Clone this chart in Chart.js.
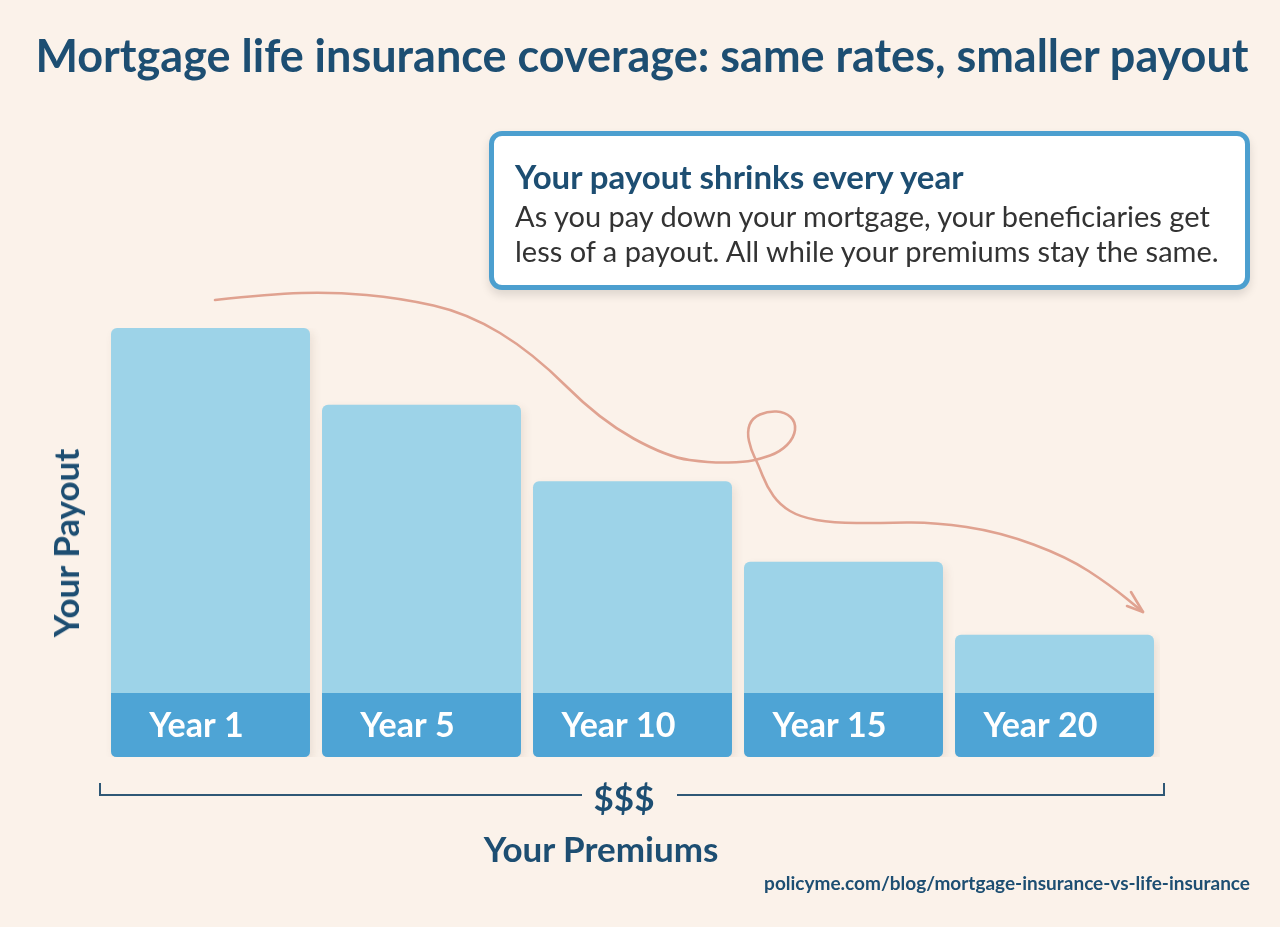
<!DOCTYPE html>
<html lang="en">
<head>
    <meta charset="UTF-8">
    <title>Mortgage life insurance coverage</title>
    <script src="https://cdn.jsdelivr.net/npm/chart.js"></script>
    <style>
        body {
            margin: 0;
            background: #fbf2ea;
            font-family: Lato, "Open Sans", sans-serif;
        }
        .page {
            position: relative;
            width: 1280px;
            height: 927px;
            overflow: hidden;
        }
        #chart {
            position: absolute;
            left: 0;
            top: 0;
        }
        h1 {
            position: absolute;
            left: 0;
            width: 1284px;
            top: 28px;
            margin: 0;
            text-align: center;
            font-size: 45px;
            font-weight: 700;
            color: #1d4e72;
            white-space: nowrap;
        }
        .callout {
            position: absolute;
            left: 489px;
            top: 131px;
            width: 751px;
            height: 149px;
            background: #fff;
            border: 5px solid #4c9fcf;
            border-radius: 13px;
            box-shadow: 0 5px 10px rgba(0,0,0,0.12);
        }
        .callout h2 {
            margin: 0;
            position: absolute;
            left: 21px;
            top: 20px;
            font-size: 33px;
            font-weight: 700;
            color: #1d4e72;
            white-space: nowrap;
        }
        .callout p {
            margin: 0;
            position: absolute;
            left: 21px;
            top: 62px;
            font-size: 29px;
            line-height: 35px;
            color: #333;
            white-space: nowrap;
        }
        .ytitle {
            position: absolute;
            left: 65px;
            top: 543px;
            transform: translate(-50%, -50%) rotate(-90deg);
            font-size: 35px;
            font-weight: 700;
            color: #1d4e72;
            white-space: nowrap;
        }
        .dollars {
            position: absolute;
            left: 624px;
            top: 797px;
            transform: translate(-50%, -50%);
            font-size: 35px;
            font-weight: 700;
            color: #1d4e72;
        }
        .xtitle {
            position: absolute;
            left: 601px;
            top: 848px;
            transform: translate(-50%, -50%);
            font-size: 35px;
            font-weight: 700;
            color: #1d4e72;
            white-space: nowrap;
        }
        .source {
            position: absolute;
            right: 30px;
            top: 871px;
            font-size: 19px;
            font-weight: 700;
            color: #1d4e72;
        }
    </style>
</head>
<body>
<div class="page">
    <canvas id="chart" width="1280" height="927"></canvas>
    <h1>Mortgage life insurance coverage: same rates, smaller payout</h1>
    <div class="callout">
        <h2>Your payout shrinks every year</h2>
        <p>As you pay down your mortgage, your beneficiaries get<br>less of a payout. All while your premiums stay the same.</p>
    </div>
    <div class="ytitle">Your Payout</div>
    <div class="dollars">$$$</div>
    <div class="xtitle">Your Premiums</div>
    <div class="source">policyme.com/blog/mortgage-insurance-vs-life-insurance</div>
</div>

<script>
    // years on the policy and relative payout (Year 1 = 100)
    var years = ['Year 1', 'Year 5', 'Year 10', 'Year 15', 'Year 20'];
    var payout = [100, 79, 58, 36, 16];
    // room below zero used for the dark label strip
    var labelStrip = -17.5;

    var lightBlue = '#9dd3e8';
    var darkBlue = '#4ea4d5';
    var arrowColor = '#e0a290';

    function roundRectBottom(ctx, x, y, w, h, r) {
        ctx.beginPath();
        ctx.moveTo(x, y);
        ctx.lineTo(x + w, y);
        ctx.lineTo(x + w, y + h - r);
        ctx.quadraticCurveTo(x + w, y + h, x + w - r, y + h);
        ctx.lineTo(x + r, y + h);
        ctx.quadraticCurveTo(x, y + h, x, y + h - r);
        ctx.closePath();
    }

    // bar shadow + dark label strip with the year text
    var stripPlugin = {
        id: 'strip',
        beforeDatasetsDraw: function(chart) {
            var ctx = chart.ctx;
            ctx.save();
            ctx.shadowColor = 'rgba(90,60,30,0.10)';
            ctx.shadowBlur = 10;
            ctx.shadowOffsetX = 3;
            ctx.shadowOffsetY = 4;
        },
        afterDatasetsDraw: function(chart) {
            var ctx = chart.ctx;
            ctx.restore();
            var zero = chart.scales.y.getPixelForValue(0);
            chart.getDatasetMeta(0).data.forEach(function(bar, i) {
                var x = bar.x - bar.width / 2;
                ctx.save();
                ctx.fillStyle = darkBlue;
                roundRectBottom(ctx, x, zero, bar.width, bar.base - zero, 6);
                ctx.fill();
                ctx.fillStyle = '#fff';
                ctx.font = '700 34px Lato';
                ctx.textAlign = 'center';
                ctx.textBaseline = 'middle';
                // labels sit a little left of centre in the original
                ctx.fillText(years[i], bar.x - 14, (zero + bar.base) / 2 + 1);
                ctx.restore();
            });
        }
    };

    // hand drawn arrow and the premiums bracket
    var decorPlugin = {
        id: 'decor',
        afterDraw: function(chart) {
            var ctx = chart.ctx;
            var a = chart.chartArea;
            var L = a.left, T = a.top, B = a.bottom;

            // arrow path as offsets from the plot area's top-left
            var pts = [
                [110, -28], [165, -34], [228, -36], [295, -30], [362, -15], [428, 25],
                [495, 92], [562, 129], [607, 135], [640, 134], [655, 131], [675, 124],
                [689, 110], [691, 94], [680, 84], [663, 83], [647, 90], [642, 104],
                [646, 122], [653, 136], [662, 159], [675, 177], [695, 189], [728, 195],
                [775, 195], [828, 194], [895, 204], [962, 229], [1005, 257], [1038, 284]
            ].map(function(p) { return [L + p[0], T + p[1]]; });

            ctx.save();
            ctx.strokeStyle = arrowColor;
            ctx.lineWidth = 2.6;
            ctx.lineCap = 'round';
            ctx.lineJoin = 'round';
            ctx.beginPath();
            ctx.moveTo(pts[0][0], pts[0][1]);
            for (var i = 1; i < pts.length - 1; i++) {
                var mx = (pts[i][0] + pts[i + 1][0]) / 2;
                var my = (pts[i][1] + pts[i + 1][1]) / 2;
                ctx.quadraticCurveTo(pts[i][0], pts[i][1], mx, my);
            }
            var tip = pts[pts.length - 1];
            ctx.lineTo(tip[0], tip[1]);
            ctx.stroke();
            ctx.beginPath();
            ctx.moveTo(tip[0] - 12, tip[1] - 20);
            ctx.lineTo(tip[0], tip[1]);
            ctx.lineTo(tip[0] - 16, tip[1] - 6);
            ctx.stroke();
            ctx.restore();

            // bracket under the bars with a gap for the $$$ label
            var y = B + 38;
            var x0 = L - 5, x1 = a.right + 4;
            ctx.save();
            ctx.strokeStyle = '#2f5876';
            ctx.lineWidth = 2;
            ctx.beginPath();
            ctx.moveTo(x0, y - 12);
            ctx.lineTo(x0, y);
            ctx.lineTo(582, y);
            ctx.moveTo(677, y);
            ctx.lineTo(x1, y);
            ctx.lineTo(x1, y - 12);
            ctx.stroke();
            ctx.restore();
        }
    };

    new Chart(document.getElementById('chart'), {
        type: 'bar',
        data: {
            labels: years,
            datasets: [{
                data: payout,
                base: labelStrip,
                backgroundColor: lightBlue,
                borderRadius: 6,
                borderSkipped: false,
                categoryPercentage: 1,
                barPercentage: 0.943
            }]
        },
        options: {
            responsive: false,
            animation: false,
            layout: {
                padding: { left: 105, right: 120, top: 328, bottom: 170 }
            },
            plugins: {
                legend: { display: false },
                tooltip: { enabled: false }
            },
            scales: {
                x: { display: false },
                y: { display: false, min: labelStrip, max: 100 }
            }
        },
        plugins: [stripPlugin, decorPlugin]
    });
</script>
</body>
</html>
